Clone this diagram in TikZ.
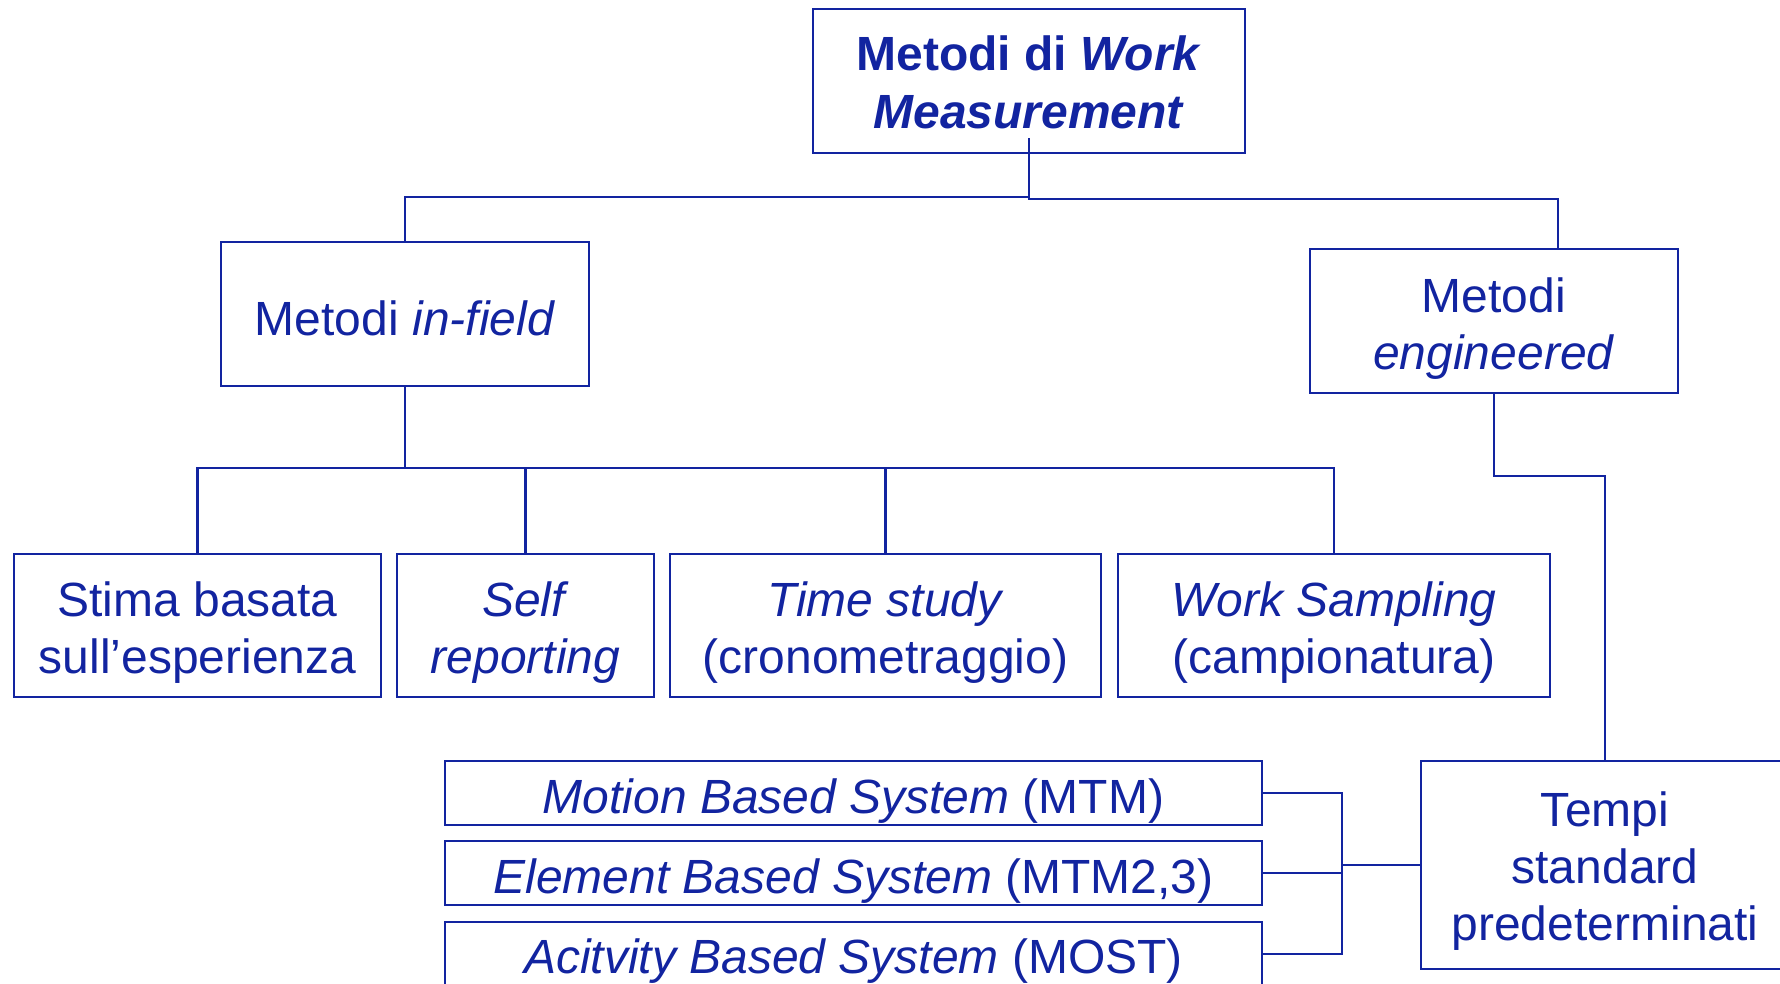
\documentclass[tikz,border=0pt]{standalone}
\usepackage{fontspec}
\setmainfont{Liberation Sans}
\definecolor{wmblue}{RGB}{18,36,160}
\newcommand{\bx}[7][]{%
  \node[box, minimum width=#4, minimum height=#5] (#2) at (#3) {};
  \node[txt, yshift=#6, #1] (#2-t) at (#2.center) {#7};}
\begin{document}
\begin{tikzpicture}[x=1pt,y=-1pt,
  box/.style={draw=wmblue, line width=2.4pt, rectangle, inner sep=0pt},
  txt/.style={inner sep=0pt, align=center, text=wmblue, font=\fontsize{48}{57}\selectfont},
  conn/.style={draw=wmblue, line width=2.4pt}]
\useasboundingbox (0,0) rectangle (1780,983);
% nodes
\bx[font=\bfseries\fontsize{48}{58}\selectfont]{top}{1029,81}{432pt}{144pt}{-1pt}{Metodi di \textit{Work}\\\textit{Measurement}}
\bx{infield}{405,314}{368pt}{144pt}{-4pt}{Metodi \textit{in-field}}
\bx{eng}{1494,321}{368pt}{144pt}{-8pt}{Metodi\\\textit{engineered}}
\bx{stima}{197.5,625.5}{367pt}{143pt}{-7pt}{Stima basata\\sull’esperienza}
\bx{self}{525.5,625.5}{257pt}{143pt}{-7pt}{\textit{Self}\\\textit{reporting}}
\bx{time}{885.5,625.5}{431pt}{143pt}{-7pt}{\textit{Time study}\\(cronometraggio)}
\bx{work}{1334,625.5}{432pt}{143pt}{-7pt}{\textit{Work Sampling}\\(campionatura)}
\bx{motion}{853.5,793}{817pt}{64pt}{-8pt}{\textit{Motion Based System} (MTM)}
\bx{element}{853.5,873}{817pt}{64pt}{-8pt}{\textit{Element Based System} (MTM2,3)}
\bx{activity}{853.5,954}{817pt}{64pt}{-7pt}{\textit{Acitvity Based System} (MOST)}
\bx{tempi}{1605,865}{368pt}{208pt}{-6pt}{Tempi\\standard\\predeterminati}
% connectors
\draw[conn] ([yshift=16pt]top.south) |- ([yshift=44pt]infield.north) -- (infield.north);
\draw[conn] ([yshift=16pt]top.south) |- ([xshift=64pt,yshift=49pt]eng.north) -- ([xshift=64pt]eng.north);
\draw[conn] (infield.south) |- ([yshift=85pt]stima.north) -- (stima.north);
\draw[conn] (infield.south) |- ([yshift=85pt]self.north) -- (self.north);
\draw[conn] (infield.south) |- ([yshift=85pt]time.north) -- (time.north);
\draw[conn] (infield.south) |- ([yshift=85pt]work.north) -- (work.north);
\draw[conn] (eng.south) |- ([yshift=284pt]tempi.north) -- (tempi.north);
\coordinate (bus) at (1342,865);
\draw[conn] (tempi.west) -- (bus);
\draw[conn] (motion.east) -| (bus);
\draw[conn] (activity.east) -| (bus);
\draw[conn] (element.east) -- (element.east -| bus);
\end{tikzpicture}
\end{document}
